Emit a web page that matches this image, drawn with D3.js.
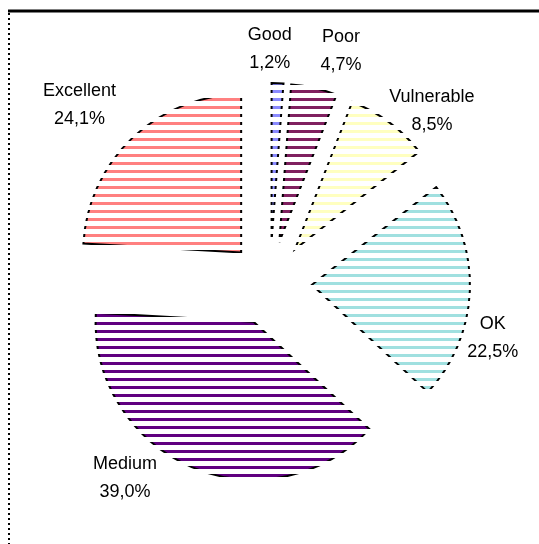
<!DOCTYPE html>
<html>
<head>
<meta charset="utf-8">
<script src="https://cdn.jsdelivr.net/npm/d3@7"></script>
<style>
  body { margin: 0; background: #fff; }
  svg { display: block; }
</style>
</head>
<body>
<div id="chart"></div>
<script>
// data
const categories = ["Good", "Poor", "Vulnerable", "OK", "Medium", "Excellent"];
const values = [1.2, 4.7, 8.5, 22.5, 39.0, 24.1];
const colors = ["#8a8aff", "#80205f", "#ffffc0", "#a0e0e0", "#600080", "#ff8080"];

const width = 539;
const height = 544;

// pie layout
const cx = 270, cy = 283;
const radius = 158;
const explode = 42;
const labelRadius = 235;

// label nudges (layout only)
const labelNudge = {
  "Good": [-9, -8],
  "Poor": [19, -12],
  "Vulnerable": [22, 8],
  "OK": [-12, 36],
  "Medium": [-53, -30],
  "Excellent": [-29, -16]
};

const svg = d3.select("#chart")
  .append("svg")
  .attr("width", width)
  .attr("height", height);

const defs = svg.append("defs");

// horizontal scanlines, 3px every 8px
defs.append("pattern")
  .attr("id", "scan")
  .attr("patternUnits", "userSpaceOnUse")
  .attr("width", 8).attr("height", 8)
  .append("rect")
    .attr("x", 0).attr("y", 2)
    .attr("width", 8).attr("height", 3)
    .attr("fill", "white");

defs.append("mask")
  .attr("id", "scanMask")
  .attr("maskUnits", "userSpaceOnUse")
  .attr("x", 0).attr("y", 0)
  .attr("width", width).attr("height", height)
  .append("rect")
    .attr("width", width).attr("height", height)
    .attr("fill", "url(#scan)");

// frame: solid top, dotted left
svg.append("line")
  .attr("x1", 8).attr("x2", width)
  .attr("y1", 11).attr("y2", 11)
  .attr("stroke", "black")
  .attr("stroke-width", 3);

svg.append("line")
  .attr("x1", 9).attr("x2", 9)
  .attr("y1", 13).attr("y2", height)
  .attr("stroke", "black")
  .attr("stroke-width", 2)
  .attr("stroke-dasharray", "2,3");

const pie = d3.pie().sort(null).value(d => d)(values);
const arc = d3.arc().innerRadius(0).outerRadius(radius);

const midAngle = d => (d.startAngle + d.endAngle) / 2;

// mask sits on an untransformed group so the scanlines stay in page space
const slices = svg.append("g")
  .attr("mask", "url(#scanMask)")
  .append("g")
  .attr("transform", `translate(${cx},${cy})`);

slices.selectAll("path")
  .data(pie)
  .join("path")
    .attr("d", arc)
    .attr("transform", d => {
      const a = midAngle(d);
      return `translate(${explode * Math.sin(a)},${-explode * Math.cos(a)})`;
    })
    .attr("fill", (d, i) => colors[i])
    .attr("stroke", "black")
    .attr("stroke-width", 2)
    .attr("stroke-linejoin", "miter");

// labels
const fmt = d3.formatLocale({decimal: ",", thousands: ".", grouping: [3], currency: ["", ""]}).format(".1f");

const labels = svg.append("g")
  .attr("font-family", "'Liberation Sans', Arial, sans-serif")
  .attr("font-size", 18)
  .attr("fill", "black")
  .attr("text-anchor", "middle");

pie.forEach((d, i) => {
  const a = midAngle(d);
  const nudge = labelNudge[categories[i]];
  const x = cx + labelRadius * Math.sin(a) + nudge[0];
  const y = cy - labelRadius * Math.cos(a) + nudge[1];
  labels.append("text")
    .attr("x", x).attr("y", y)
    .text(categories[i]);
  labels.append("text")
    .attr("x", x).attr("y", y + 28)
    .text(fmt(values[i]) + "%");
});
</script>
</body>
</html>
